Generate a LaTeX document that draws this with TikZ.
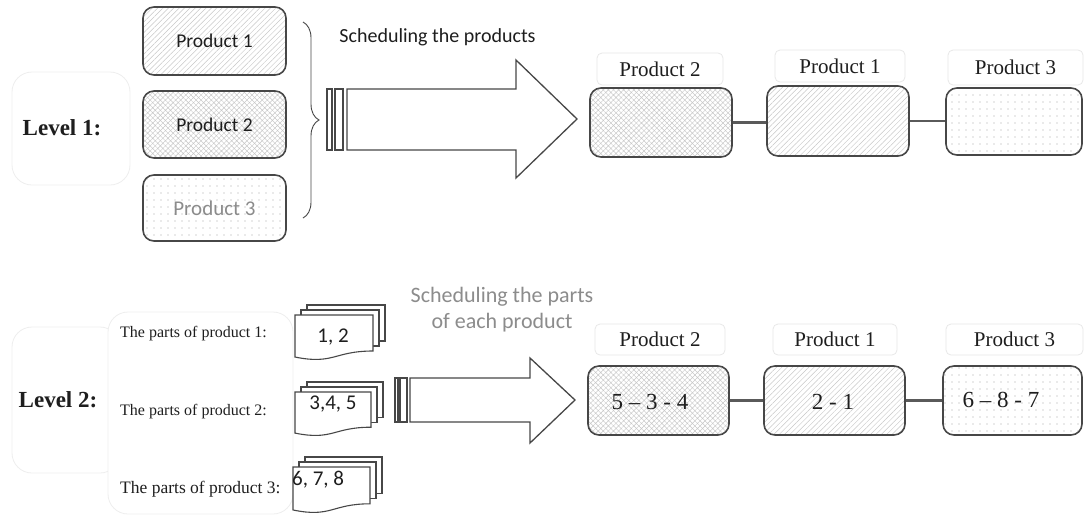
\documentclass[tikz,border=0pt]{standalone}
\usepackage{fontspec}
\setmainfont{Liberation Serif}
\newfontfamily\calib{Carlito}
\usetikzlibrary{patterns,patterns.meta,decorations.pathreplacing}
\definecolor{boxc}{HTML}{474747}
\definecolor{hatchc}{HTML}{C8C8C8}
\definecolor{crossc}{HTML}{C8C8C8}
\definecolor{dotc}{HTML}{A8A8A8}
\definecolor{faint}{HTML}{E8E8E8}
\definecolor{fainter}{HTML}{EEEEEE}
\definecolor{connc}{HTML}{5A5A5A}
\definecolor{txtc}{HTML}{1E1E1E}
\definecolor{lighttxt}{HTML}{8C8C8C}
\newcommand\fsz[2]{\fontsize{#1pt}{#2pt}\selectfont}
\newcommand\mdocshape[4]{%
  \foreach \k in {2,1} {
    \filldraw[docst] ({#1+6*\k},{#2-5*\k}) rectangle ++(#3,{0.8*#4});
  }
  \filldraw[docst] (#1,#2) -- ++(#3,0) -- ({#1+#3},{#2+0.8*#4})
    .. controls ({#1+0.5*#3},{#2+0.8*#4}) and ({#1+0.5*#3},{#2+1.108*#4}) .. (#1,{#2+0.934*#4}) -- cycle;
}
\tikzset{
  prodbox/.style={draw=boxc, line width=1.6pt, rounded corners=11pt, inner sep=0pt, text=txtc},
  hatchA/.style={pattern={Lines[angle=45,distance=3.8pt,line width=0.45pt]}, pattern color=hatchc},
  hatchX/.style={pattern={Hatch[angle=45,distance=3.6pt,line width=0.45pt]}, pattern color=crossc},
  hatchD/.style={pattern={Dots[distance=7pt,radius=0.6pt]}, pattern color=dotc},
  lblbox/.style={draw=faint, line width=0.8pt, rounded corners=5pt, inner sep=0pt, font=\fsz{21}{24}, text=txtc},
  faintbox/.style={draw=fainter, line width=0.8pt, rounded corners=20pt},
  conn/.style={draw=connc, line width=2.2pt},
  bigarrow/.style={draw=boxc, line width=1.3pt, fill=white, line join=miter},
  docst/.style={draw=boxc, line width=1.1pt, fill=white},
  leveltxt/.style={font=\bfseries\fsz{23}{26}, text=txtc},
  partstxt/.style={font=\fsz{16}{19}, text=txtc, anchor=west, inner sep=0pt},
  numtxt/.style={font=\calib\fsz{21}{24}, text=txtc, inner sep=0pt},
  seqtxt/.style={font=\fsz{23}{26}, text=txtc, inner sep=0pt},
  brc/.style={draw=boxc, line width=0.9pt, decorate, decoration={brace, amplitude=16pt}},
}
\begin{document}
\begin{tikzpicture}[x=1pt,y=-1pt]
\useasboundingbox (0,0) rectangle (1089,515);
\fill[white] (0,0) rectangle (1089,515);

% ---------------- Level 1 ----------------
\draw[faintbox] (12,72) rectangle (130,185);
\node[leveltxt] (lev1) at (62,128) {Level 1:};

\node[prodbox, hatchA, minimum width=143pt, minimum height=68pt, font=\calib\fsz{19.5}{22}] (p1) at (214.5,41) {Product 1};
\node[prodbox, hatchX, minimum width=143pt, minimum height=67pt, font=\calib\fsz{19.5}{22}] (p2) at (214.5,124.5) {Product 2};
\node[prodbox, hatchD, minimum width=143pt, minimum height=66pt, font=\calib\fsz{21}{24}, text=lighttxt] (p3) at (214.5,208) {\raisebox{-4pt}{Product 3}};

\coordinate (brT) at (303,22);
\coordinate (brB) at (303,218);
\draw[brc] (brT) -- (brB);

\node[font=\calib\fsz{20}{24}, text=txtc] (sched1) at (437.5,37) {Scheduling the products};

\filldraw[bigarrow] (327,89) rectangle (332,150);
\filldraw[bigarrow] (335,89) rectangle (343,150);
\filldraw[bigarrow] (347,89) -- (516,89) -- (516,60) -- (577,119) -- (516,178) -- (516,150) -- (347,150) -- cycle;

\node[lblbox, minimum width=126pt, minimum height=32pt] (t2) at (660,69) {Product 2};
\node[lblbox, minimum width=130pt, minimum height=32pt] (t1) at (840,66) {Product 1};
\node[lblbox, minimum width=135pt, minimum height=35pt] (t3) at (1015.5,67.5) {Product 3};

\node[prodbox, hatchX, minimum width=142pt, minimum height=69pt] (r2) at (661,122.5) {};
\node[prodbox, hatchA, minimum width=142pt, minimum height=70pt] (r1) at (838,121) {};
\node[prodbox, hatchD, minimum width=136pt, minimum height=67pt] (r3) at (1014,121.5) {};
\draw[conn] (r2.east) -- (r2.east -| r1.west);
\draw[conn] (r1.east) -- (r1.east -| r3.west);

% ---------------- Level 2 ----------------
\draw[faintbox] (12,327) rectangle (120,473);
\filldraw[faintbox, fill=white] (108,312) rectangle (293,514);
\node[leveltxt] (lev2) at (58,400) {Level 2:};

\node[partstxt] (pp1) at (120,334) {The parts of product 1:};
\node[partstxt] (pp2) at (120,412) {The parts of product 2:};
\node[partstxt, font=\fsz{17.5}{20}] (pp3) at (120,489) {The parts of product 3:};

\mdocshape{295}{315}{78}{45}
\mdocshape{295}{392}{76}{44}
\mdocshape{293}{467}{77}{46}
\node[numtxt] (n1) at (333,337) {1, 2};
\node[numtxt] (n2) at (333,404) {3,4, 5};
\node[numtxt, anchor=west] (n3) at (292,480) {6, 7, 8};

\node[font=\calib\fsz{22}{26}, text=lighttxt, align=center] (sched2) at (502,310) {Scheduling the parts\\of each product};

\filldraw[bigarrow] (395,378) rectangle (398,422);
\filldraw[bigarrow] (400,378) rectangle (407,422);
\filldraw[bigarrow] (410,378) -- (530,378) -- (530,358) -- (575,400) -- (530,443) -- (530,422) -- (410,422) -- cycle;

\node[lblbox, minimum width=130pt, minimum height=31pt] (u2) at (660,339.5) {Product 2};
\node[lblbox, minimum width=124pt, minimum height=31pt] (u1) at (835,339.5) {Product 1};
\node[lblbox, minimum width=137pt, minimum height=31pt] (u3) at (1014.5,339.5) {Product 3};

\node[prodbox, hatchX, minimum width=141pt, minimum height=69pt] (b2) at (658.5,400.5) {};
\node[prodbox, hatchA, minimum width=141pt, minimum height=69pt] (b1) at (834.5,400.5) {};
\node[prodbox, hatchD, minimum width=139pt, minimum height=69pt] (b3) at (1012.5,400.5) {};
\draw[conn] (b2.east) -- (b1.west);
\draw[conn] (b1.east) -- (b3.west);
\node[seqtxt] (s2) at (650,402) {5 -- 3 - 4};
\node[seqtxt] (s1) at (833,402) {2 - 1};
\node[seqtxt] (s3) at (1001,400) {6 -- 8 - 7};
\end{tikzpicture}
\end{document}
